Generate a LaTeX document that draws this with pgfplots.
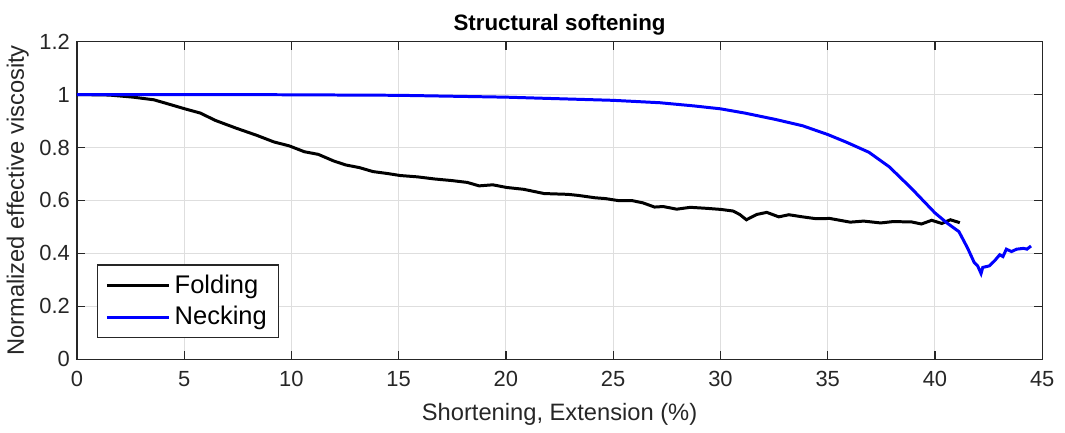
\documentclass[border={0pt 0pt 2pt 4pt}]{standalone}
\usepackage{pgfplots}
\pgfplotsset{compat=1.18}
\usepackage{fontspec}
\setmainfont{Liberation Sans}
\definecolor{axgray}{gray}{0.15}
\definecolor{gridgray}{gray}{0.87}
\begin{document}
\begin{tikzpicture}
\begin{axis}[
  scale only axis,
  width=484.5pt, height=159.5pt,
  xmin=0, xmax=45, ymin=0, ymax=1.2,
  xtick={0,5,...,45}, ytick={0,0.2,...,1.2},
  yticklabels={0,0.2,0.4,0.6,0.8,1,1.2},
  tick align=inside,
  major tick length=4pt,
  axis line style={axgray, line width=0.6pt},
  tick style={axgray, line width=0.6pt},
  every tick label/.append style={axgray, font=\fontsize{11}{13}\selectfont},
  xticklabel style={yshift=-2.5pt},
  /pgf/number format/assume math mode=true,
  grid=major,
  major grid style={gridgray, line width=0.5pt},
  title={\textbf{Structural softening}},
  title style={font=\fontsize{11.2}{13}\selectfont, yshift=-6.5pt},
  xlabel={Shortening, Extension (\%)},
  ylabel={Normalized effective viscosity},
  label style={axgray, font=\fontsize{11.9}{14}\selectfont},
  xlabel style={yshift=-1.5pt},
  ylabel style={yshift=-1.5pt},
  legend style={at={(0.0206,0.066)}, anchor=south west, draw=axgray, line width=0.6pt,
    font=\fontsize{12.8}{15}\selectfont, row sep=1pt, inner xsep=4pt, inner ysep=3pt},
  legend cell align=left,
  legend image code/.code={\draw[#1, line width=1.5pt] (0cm,0cm) -- (1.1cm,0cm);},
]
\addplot[black, line width=1.5pt] coordinates {
(0,1.0) (1.5,0.998) (2.63,0.99) (3.59,0.98) (4.23,0.965) (5.03,0.946) (5.75,0.93)
(6.46,0.902) (7.42,0.873) (8.38,0.846) (9.18,0.821) (9.9,0.806) (10.6,0.784)
(11.25,0.774) (11.97,0.749) (12.53,0.734) (13.17,0.724) (13.8,0.709) (14.45,0.702)
(15.08,0.694) (15.88,0.689) (16.68,0.681) (17.48,0.675) (18.2,0.668) (18.75,0.655)
(19.39,0.659) (20.03,0.649) (20.83,0.642) (21.78,0.626) (22.89,0.623) (23.37,0.619)
(24.16,0.61) (24.64,0.607) (25.27,0.599) (25.9,0.599) (26.38,0.591) (26.93,0.575)
(27.33,0.577) (27.96,0.567) (28.6,0.574) (29.39,0.57) (30.03,0.566) (30.59,0.56)
(30.9,0.547) (31.21,0.527) (31.69,0.547) (32.16,0.555) (32.72,0.538) (33.19,0.546)
(33.83,0.538) (34.46,0.531) (35.1,0.532) (35.57,0.525) (36.05,0.518) (36.68,0.522)
(37.47,0.515) (38.03,0.52) (38.9,0.519) (39.37,0.511) (39.85,0.525) (40.32,0.513)
(40.72,0.527) (41.16,0.516)
};
\addlegendentry{Folding}
\addplot[blue, line width=1.5pt] coordinates {
(0,1.0) (5,1.0) (10,0.999) (15,0.997) (20,0.99) (20.83,0.988) (25,0.978) (27.17,0.969)
(28.76,0.957) (30,0.946) (31.13,0.93) (32.56,0.906) (33.83,0.882) (35,0.849)
(35.9,0.819) (36.92,0.782) (37.87,0.727) (38.9,0.646) (40,0.553) (40.56,0.515)
(41.12,0.482) (41.51,0.422) (41.83,0.366) (41.99,0.353) (42.15,0.324) (42.23,0.347)
(42.54,0.353) (42.78,0.372) (43.02,0.395) (43.17,0.388) (43.33,0.416) (43.57,0.407)
(43.81,0.416) (44.13,0.419) (44.29,0.416) (44.48,0.428)
};
\addlegendentry{Necking}
\end{axis}
\end{tikzpicture}
\end{document}
